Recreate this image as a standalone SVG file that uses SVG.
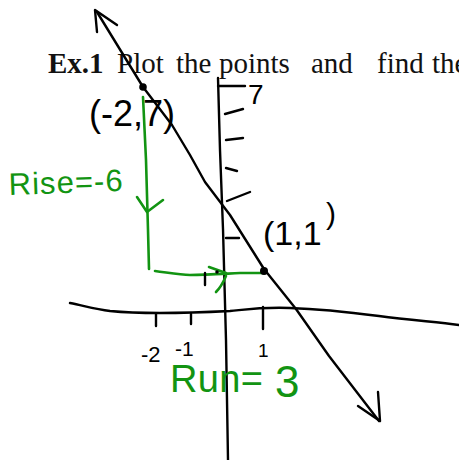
<svg xmlns="http://www.w3.org/2000/svg" width="459" height="460" viewBox="0 0 459 460">
<style>
.ink{fill:none;stroke:#000;stroke-width:2.4;stroke-linecap:round;stroke-linejoin:round}
.gink{fill:none;stroke:#129412;stroke-width:2.6;stroke-linecap:round;stroke-linejoin:round}
.hand{font-family:"Liberation Sans","DejaVu Sans",sans-serif;fill:#000}
.ghand{font-family:"Liberation Sans","DejaVu Sans",sans-serif;fill:#129412}
.print{font-family:"Liberation Serif","DejaVu Serif",serif;font-size:29px;fill:#111}
</style>
<rect width="459" height="460" fill="#fff"/>
<g id="title">
<text class="print" y="73"><tspan x="48" font-weight="bold">Ex.1</tspan><tspan x="117">Plot</tspan><tspan x="176">the</tspan><tspan x="219">points</tspan><tspan x="311">and</tspan><tspan x="377">find</tspan><tspan x="432">the</tspan></text>
</g>
<g id="axes">
<path class="ink" stroke-width="2.8" d="M218,78 L220,150 L223,229 L226,340 L228,460"/>
<path class="ink" d="M70,303 C85,306 95,309 110,311 C140,314 190,313 230,311 C250,309 262,307 290,308 C320,309 340,311 379,316 C410,320 435,322 459,325"/>
<g id="yticks">
<path class="ink" d="M218,86 L245,86"/>
<path class="ink" d="M225,114 L243,109"/>
<path class="ink" d="M226,140 L243,138"/>
<path class="ink" d="M226,168 L237,171"/>
<path class="ink" d="M227,201 L250,192"/>
<path class="ink" d="M226,238 L239,238"/>
</g>
<g id="xticks">
<path class="ink" d="M156,314 L156,326"/>
<path class="ink" d="M191,314 L191,324"/>
<path class="ink" d="M263,307 L263,329"/>
</g>
<text class="hand" x="141" y="362" font-size="22">-2</text>
<text class="hand" x="175" y="356" font-size="21">-1</text>
<text class="hand" x="258" y="357" font-size="19">1</text>
<text class="hand" x="248" y="104" font-size="28">7</text>
</g>
<g id="connectors">
<path id="graph-line" class="ink" d="M97,12 L143,87 L172,125 L190,155 L205,182 L230,215 L264,269 L296,309 L329,356 L379,421"/>
<path class="ink" d="M97,32 L95,10 L117,25"/>
<path class="ink" d="M358,406 L380,421 L378,392"/>
<path id="rise" class="gink" d="M143,97 L146,160 L148,230 L149,269"/>
<path class="gink" d="M137,197 L147,212 L163,200"/>
<path id="run" class="gink" d="M155,271 C170,273 180,275 190,275 C205,275 220,274 240,273 L265,273"/>
<path class="gink" d="M209,267 L226,273"/>
<path class="gink" d="M226,276 C223,283 220,288 216,292"/>
<path class="ink" d="M205,273 L205,285"/>
<circle cx="217" cy="272" r="1.8" fill="#000"/>
</g>
<g id="point-a">
<circle cx="143" cy="87" r="3.8" fill="#000"/>
<text class="hand" x="89" y="126" font-size="36">(-2,7)</text>
</g>
<g id="point-b">
<circle cx="264" cy="271" r="4" fill="#000"/>
<text class="hand" x="263" y="245" font-size="34">(1,1</text>
<text class="hand" x="326" y="224" font-size="30">)</text>
</g>
<g id="rise-label">
<text class="ghand" x="9" y="195" font-size="31" textLength="114" transform="rotate(-2 9 195)">Rise=-6</text>
</g>
<g id="run-label">
<text class="ghand" x="170" y="392" font-size="38" textLength="93">Run=</text>
<text class="ghand" x="275" y="397" font-size="44">3</text>
</g>
</svg>
